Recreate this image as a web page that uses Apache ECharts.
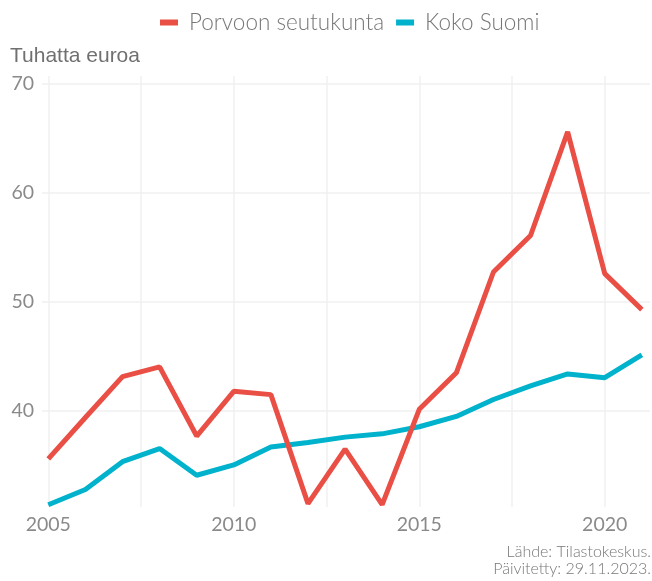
<!DOCTYPE html>
<html>
<head>
<meta charset="utf-8">
<script src="https://cdn.jsdelivr.net/npm/echarts@6/dist/echarts.min.js"></script>
<style>
  html, body { margin: 0; padding: 0; background: #fff; }
  #chart { width: 652px; height: 581px; }
</style>
</head>
<body>
<div id="chart"></div>
<script>
// vuodet ja arvot (tuhatta euroa)
const years = [2005, 2006, 2007, 2008, 2009, 2010, 2011, 2012, 2013, 2014, 2015, 2016, 2017, 2018, 2019, 2020, 2021];
const porvoo = [35.6, 39.4, 43.15, 44.05, 37.7, 41.8, 41.5, 31.5, 36.5, 31.4, 40.15, 43.5, 52.75, 56.1, 65.6, 52.6, 49.3];
const kokoSuomi = [31.4, 32.8, 35.35, 36.55, 34.1, 35.05, 36.7, 37.1, 37.6, 37.9, 38.55, 39.5, 41.05, 42.3, 43.4, 43.05, 45.15];
const seriesNames = ['Porvoon seutukunta', 'Koko Suomi'];
const xLabels = [2005, 2010, 2015, 2020];
const xGrid = [2005, 2007.5, 2010, 2012.5, 2015, 2017.5, 2020];
const yLabels = [40, 50, 60, 70];

const toPairs = (vals) => years.map((y, i) => [y, vals[i]]);

const chart = echarts.init(document.getElementById('chart'));
const gridColor = '#f0f0f0';
const labelColor = '#8a8a8a';
const labelFont = 'Lato';

const option = {
  animation: false,
  legend: {
    top: 6,
    left: 155,
    itemWidth: 18,
    itemHeight: 6,
    itemGap: 12,
    icon: 'rect',
    textStyle: { fontFamily: labelFont, fontSize: 22.5, color: '#777', fontWeight: 300, padding: [0, 0, 0, 6] },
    data: seriesNames
  },
  grid: { left: 42, right: 2, top: 76, bottom: 74, containLabel: false },
  xAxis: {
    type: 'value',
    min: 2004.83,
    max: 2021.22,
    axisLine: { show: false },
    // piilotetut tikit ohjaavat pystyviivoja
    axisTick: { show: false, customValues: xGrid },
    axisLabel: {
      customValues: xLabels,
      color: labelColor, fontFamily: labelFont, fontSize: 19.5, margin: 8,
      formatter: (v) => String(v)
    },
    splitLine: { show: true, lineStyle: { color: gridColor, width: 1.5 } }
  },
  yAxis: {
    type: 'value',
    min: 31.19,
    max: 70.73,
    axisLine: { show: false },
    axisTick: { show: false, customValues: yLabels },
    axisLabel: {
      customValues: yLabels,
      color: labelColor, fontFamily: labelFont, fontSize: 19.5, margin: 8,
      formatter: (v) => String(v)
    },
    splitLine: { show: true, lineStyle: { color: gridColor, width: 1.5 } }
  },
  series: [
    {
      name: seriesNames[0], type: 'line', data: toPairs(porvoo),
      showSymbol: false, symbol: 'none',
      itemStyle: { color: '#ea4f45' },
      lineStyle: { color: '#ea4f45', width: 5 },
      z: 3
    },
    {
      name: seriesNames[1], type: 'line', data: toPairs(kokoSuomi),
      showSymbol: false, symbol: 'none',
      itemStyle: { color: '#00b2cb' },
      lineStyle: { color: '#00b2cb', width: 5 },
      z: 2
    }
  ],
  graphic: [
    {
      type: 'text', x: 10, y: 46,
      style: { text: 'Tuhatta euroa', font: '21px "Liberation Sans"', fill: '#707070' }
    },
    {
      type: 'text', x: 651, y: 543,
      style: {
        text: 'Lähde: Tilastokeskus.\nPäivitetty: 29.11.2023.',
        font: '300 16px Lato', fill: '#777', align: 'right', lineHeight: 17
      }
    }
  ]
};
chart.setOption(option);
</script>
</body>
</html>
